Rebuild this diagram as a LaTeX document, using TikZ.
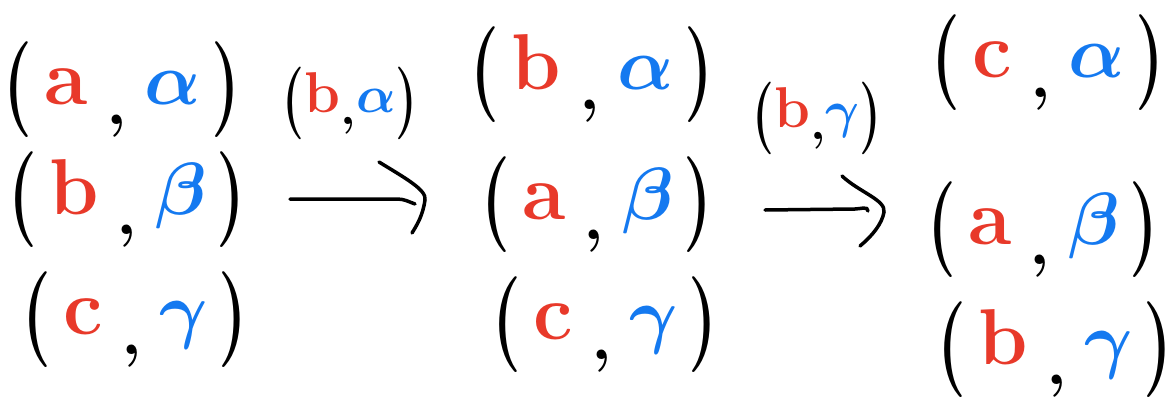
\documentclass[tikz,border=0pt]{standalone}
\usepackage{graphicx}
\usepackage{amsmath}
\usetikzlibrary{arrows.meta,calc}
\definecolor{hred}{HTML}{E8392A}
\definecolor{hblue}{HTML}{1479F0}
\newcommand{\bigp}[1]{\raisebox{-9pt}{\scalebox{1.0}[1.45]{#1}}}
\newcommand{\gk}[1]{\scalebox{7.4}{\fontsize{10}{10}\selectfont\boldmath$#1$}}
\newcommand{\gks}[1]{\scalebox{5.2}{\fontsize{10}{10}\selectfont\boldmath$#1$}}
\newcommand{\pairtxt}[2]{\fontsize{66}{66}\selectfont\bfseries\bigp{(}\hspace{12pt}\textcolor{hred}{\scalebox{1.2}{#1}}\hspace{18pt}\raisebox{-20pt}{,}\hspace{18pt}\textcolor{hblue}{\gk{#2}}\hspace{10pt}\bigp{)}}
\newcommand{\smalltxt}[2]{\fontsize{50}{50}\selectfont\bfseries\bigp{(}\textcolor{hred}{\scalebox{1.15}{#1}}\raisebox{-12pt}{,}\textcolor{hblue}{\gks{#2}}\bigp{)}}
\tikzset{pair/.style={inner sep=0pt, anchor=center},
  hline/.style={line width=3.5pt, line cap=round},
  hhead/.style={line width=3.5pt, line cap=round}}
\begin{document}
\begin{tikzpicture}[x=1pt,y=-1pt]
\useasboundingbox (0,0) rectangle (1176,410);
% column 1
\node[pair] (l1) at (122,90) {\pairtxt{a}{\alpha}};
\node[pair] (l2) at (127,200) {\pairtxt{b}{\beta}};
\node[pair] (l3) at (135,320) {\pairtxt{c}{\gamma}};
% column 2
\node[pair] (m1) at (592,75) {\pairtxt{b}{\alpha}};
\node[pair] (m2) at (597,205) {\pairtxt{a}{\beta}};
\node[pair] (m3) at (605,325) {\pairtxt{c}{\gamma}};
% column 3
\node[pair] (r1) at (1048,63) {\pairtxt{c}{\alpha}};
\node[pair] (r2) at (1043,230) {\pairtxt{a}{\beta}};
\node[pair] (r3) at (1055,350) {\pairtxt{b}{\gamma}};
% arrow 1
\coordinate (a1s) at (290,199);
\coordinate (a1e) at (415,204);
\coordinate (a1t) at (425,200);
\draw[hline] (a1s) -- (397,199) to[out=0,in=160] (a1e);
\draw[hhead] ($(a1t)+(-46,-38)$) .. controls ($(a1t)+(-20,-22)$) and ($(a1t)+(2,-10)$) .. (a1t) .. controls ($(a1t)+(-2,15)$) and ($(a1t)+(-8,25)$) .. ($(a1t)+(-13,33)$);
\node[pair] (t1) at (350,103) {\smalltxt{b}{\alpha}};
% arrow 2
\coordinate (a2s) at (765,210);
\coordinate (a2e) at (868,211);
\coordinate (a2t) at (884,212);
\draw[hline] (a2s) -- (855,209) to[out=0,in=90] (a2e);
\draw[hhead] ($(a2t)+(-42,-36)$) .. controls ($(a2t)+(-25,-20)$) and ($(a2t)+(2,-12)$) .. (a2t) .. controls ($(a2t)+(-2,12)$) and ($(a2t)+(-12,24)$) .. ($(a2t)+(-24,34)$);
\node[pair] (t2) at (817,118) {\smalltxt{b}{\gamma}};
\end{tikzpicture}
\end{document}
